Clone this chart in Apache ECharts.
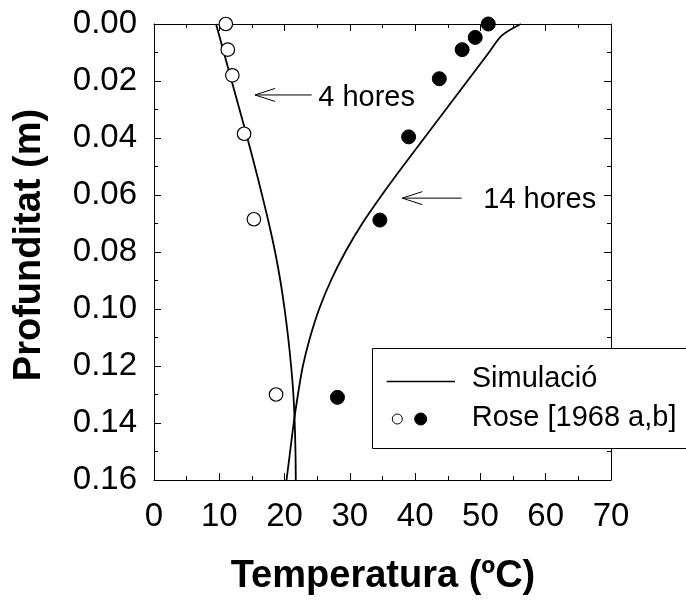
<!DOCTYPE html>
<html>
<head>
<meta charset="utf-8">
<title>Temperatura vs profunditat</title>
<script src="https://cdn.jsdelivr.net/npm/echarts@6/dist/echarts.min.js"></script>
<style>
  html, body { margin: 0; padding: 0; background: #fff; }
  #chart { width: 686px; height: 601px; }
</style>
</head>
<body>
<div id="chart"></div>
<script>
// Simulated temperature profiles (depth in m, temperature in ºC)
const simDepth4h = [0, 0.01, 0.02, 0.03, 0.04, 0.05, 0.06, 0.07, 0.08, 0.09, 0.10, 0.11, 0.12, 0.13, 0.14, 0.15, 0.16];
const simTemp4h  = [9.5, 10.7, 11.9, 13.1, 14.3, 15.45, 16.55, 17.6, 18.55, 19.35, 20.0, 20.55, 21.0, 21.35, 21.55, 21.67, 21.72];

const simDepth14h = [0, 0.004, 0.01, 0.02, 0.03, 0.04, 0.05, 0.06, 0.07, 0.08, 0.09, 0.10, 0.11, 0.12, 0.13, 0.14, 0.15, 0.16];
const simTemp14h  = [56.2, 53.3, 51.3, 48.0, 44.7, 41.4, 38.1, 34.9, 31.9, 29.3, 27.1, 25.3, 23.9, 22.8, 22.05, 21.4, 20.85, 20.3];

// Measurements, Rose [1968 a,b]
const obsDepth4h = [0, 0.009, 0.018, 0.0385, 0.0685, 0.130];
const obsTemp4h  = [11.0, 11.3, 12.0, 13.8, 15.3, 18.7];

const obsDepth14h = [0, 0.0047, 0.009, 0.0192, 0.0396, 0.0688, 0.131];
const obsTemp14h  = [51.2, 49.2, 47.2, 43.7, 39.0, 34.6, 28.1];

// Axis ticks
const tempTicks = [0, 10, 20, 30, 40, 50, 60, 70];
const depthTicks = [0, 0.02, 0.04, 0.06, 0.08, 0.10, 0.12, 0.14, 0.16];

const FONT = "'Liberation Sans', Arial, Helvetica, sans-serif";

function pairs(xs, ys) { return xs.map((x, i) => [x, ys[i]]); }

const chart = echarts.init(document.getElementById('chart'), null, { renderer: 'canvas' });

const axisLine = { show: true, onZero: false, lineStyle: { color: '#000', width: 1 } };
const majorTick = { show: true, inside: true, length: 7, lineStyle: { color: '#000', width: 1 } };
const minorTick = { show: true, splitNumber: 2, length: 4, lineStyle: { color: '#000', width: 1 } };

const xCommon = {
  type: 'value', min: tempTicks[0], max: tempTicks[tempTicks.length - 1],
  interval: tempTicks[1] - tempTicks[0],
  axisLine, axisTick: majorTick, minorTick, splitLine: { show: false }
};
const yCommon = {
  type: 'value', inverse: true, min: depthTicks[0], max: depthTicks[depthTicks.length - 1],
  interval: depthTicks[1] - depthTicks[0],
  axisLine, axisTick: majorTick, minorTick, splitLine: { show: false }
};

const lineStyleSim = { color: '#000', width: 1.8 };

chart.setOption({
  animation: false,
  backgroundColor: '#fff',
  grid: { left: 154, top: 24, width: 457, height: 456, containLabel: false },
  xAxis: [
    Object.assign({}, xCommon, {
      position: 'bottom',
      axisLabel: { show: true, margin: 20, color: '#000', fontSize: 33, fontFamily: FONT }
    }),
    Object.assign({}, xCommon, { position: 'top', axisLabel: { show: false } })
  ],
  yAxis: [
    Object.assign({}, yCommon, {
      position: 'left',
      axisLabel: {
        show: true, margin: 17, color: '#000', fontSize: 33, fontFamily: FONT,
        formatter: v => v.toFixed(2)
      }
    }),
    Object.assign({}, yCommon, { position: 'right', axisLabel: { show: false } })
  ],
  series: [
    {
      name: 'Simulació 4 hores', type: 'line', xAxisIndex: 0, yAxisIndex: 0,
      data: pairs(simTemp4h, simDepth4h), showSymbol: false, smooth: 0.35,
      lineStyle: lineStyleSim, z: 2
    },
    {
      name: 'Simulació 14 hores', type: 'line', xAxisIndex: 0, yAxisIndex: 0,
      data: pairs(simTemp14h, simDepth14h), showSymbol: false, smooth: 0.3,
      lineStyle: lineStyleSim, z: 2
    },
    {
      name: 'Rose 4 hores', type: 'scatter', xAxisIndex: 0, yAxisIndex: 0,
      data: pairs(obsTemp4h, obsDepth4h), symbol: 'circle', symbolSize: 13.5,
      itemStyle: { color: '#fff', borderColor: '#000', borderWidth: 1.2, opacity: 1 }, z: 3
    },
    {
      name: 'Rose 14 hores', type: 'scatter', xAxisIndex: 0, yAxisIndex: 0,
      data: pairs(obsTemp14h, obsDepth14h), symbol: 'circle', symbolSize: 14,
      itemStyle: { color: '#000', borderColor: '#000', borderWidth: 1, opacity: 1 }, z: 3
    }
  ]
});

// Arrow annotations, positioned in data space (temperature, depth)
const notes = [
  { text: '4 hores', tip: [15.47, 0.0249], tail: [24.15, 0.0249], at: [25.16, 0.0261] },
  { text: '14 hores', tip: [38.03, 0.0611], tail: [47.13, 0.0611], at: [50.44, 0.0616] }
];

const graphics = [];
notes.forEach(n => {
  const tip = chart.convertToPixel({ gridIndex: 0 }, n.tip);
  const tail = chart.convertToPixel({ gridIndex: 0 }, n.tail);
  const at = chart.convertToPixel({ gridIndex: 0 }, n.at);
  const stroke = { stroke: '#000', lineWidth: 1 };
  graphics.push({ type: 'line', shape: { x1: tip[0], y1: tip[1], x2: tail[0], y2: tail[1] }, style: stroke, z: 10 });
  graphics.push({ type: 'polyline', shape: { points: [[tip[0] + 20, tip[1] - 6.5], [tip[0], tip[1]], [tip[0] + 20, tip[1] + 6.5]] }, style: Object.assign({ fill: null }, stroke), z: 10 });
  graphics.push({ type: 'text', x: at[0], y: at[1], style: { text: n.text, font: `29px ${FONT}`, fill: '#000', align: 'left', verticalAlign: 'middle' }, z: 10 });
});

// Legend box (runs past the right edge of the canvas)
graphics.push({ type: 'rect', shape: { x: 372.5, y: 348.5, width: 400, height: 100 }, style: { fill: '#fff', stroke: '#000', lineWidth: 1 }, z: 20 });
graphics.push({ type: 'line', shape: { x1: 386.7, y1: 381.5, x2: 455, y2: 381.5 }, style: { stroke: '#000', lineWidth: 1.6 }, z: 21 });
graphics.push({ type: 'circle', shape: { cx: 397.3, cy: 419, r: 5 }, style: { fill: '#fff', stroke: '#000', lineWidth: 1 }, z: 21 });
graphics.push({ type: 'circle', shape: { cx: 420.7, cy: 419, r: 6 }, style: { fill: '#000', stroke: '#000', lineWidth: 1 }, z: 21 });
graphics.push({ type: 'text', x: 471.7, y: 379, style: { text: 'Simulació', font: `29px ${FONT}`, fill: '#000', align: 'left', verticalAlign: 'middle' }, z: 21 });
graphics.push({ type: 'text', x: 471.7, y: 418, style: { text: 'Rose [1968 a,b]', font: `29px ${FONT}`, fill: '#000', align: 'left', verticalAlign: 'middle' }, z: 21 });

// Axis titles
graphics.push({ type: 'text', x: 383, y: 577, style: { text: 'Temperatura (ºC)', font: `bold 38px ${FONT}`, fill: '#000', align: 'center', verticalAlign: 'middle' }, z: 10 });
graphics.push({ type: 'text', x: 30, y: 245, rotation: Math.PI / 2, style: { text: 'Profunditat (m)', font: `bold 38px ${FONT}`, fill: '#000', align: 'center', verticalAlign: 'middle' }, z: 10 });

chart.setOption({ graphic: { elements: graphics } });
</script>
</body>
</html>
